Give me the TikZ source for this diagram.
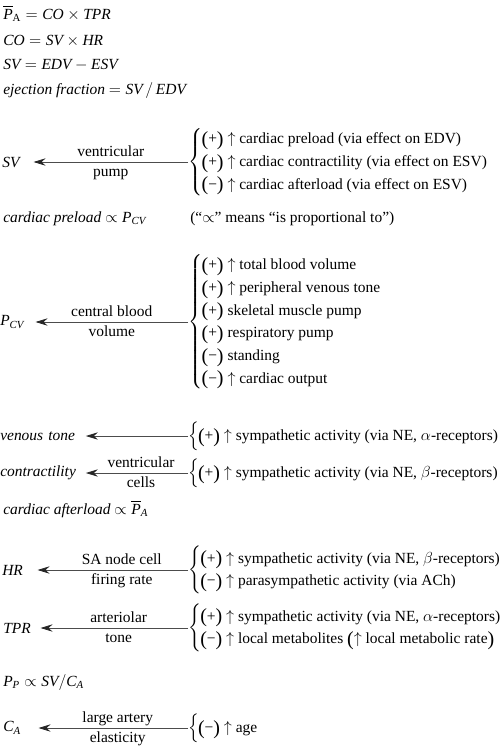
\documentclass[tikz,border=0pt]{standalone}
\usepackage{amsmath}
\usepackage{fontspec}
\setmainfont{Liberation Serif}
\usetikzlibrary{arrows.meta,positioning}

\newcommand{\bodyfont}{\fontsize{11.6}{17}\selectfont}
\newcommand{\bigpar}[1]{\raisebox{-1.2pt}{\fontsize{15}{15}\selectfont #1}}
\newcommand{\posfx}{\bigpar{(}+\bigpar{)}}
\newcommand{\negfx}{\bigpar{(}−\bigpar{)}}
\newcommand{\incr}{$\uparrow$}
\newcommand{\fxlist}[1]{$\left\{\mkern-1mu\vcenter{\hbox{\begin{tabular}{@{}l@{}}#1\end{tabular}}}\right.$}

\tikzset{
  txt/.style={anchor=base west, inner sep=0pt},
  lhs/.style={anchor=west, inner sep=0pt, text width=#1, align=left, font=\bodyfont\itshape},
  fx/.style={anchor=west, inner sep=0pt},
  flow/.style={draw=black!70, line width=0.6pt, -{Stealth[length=9pt,width=5.5pt,inset=3pt,black!85]}},
  toplbl/.style={midway, anchor=base, yshift=3.8pt, inner sep=0pt},
  botlbl/.style={midway, anchor=base, yshift=-10.5pt, inner sep=0pt}
}

\begin{document}
\begin{tikzpicture}[x=0.75pt, y=-0.75pt, font=\bodyfont]
\useasboundingbox (0,0) rectangle (500,746);

% basic relations
\node[txt] (mapeq) at (3,19) {$\overline{\textit{P}}_{\textrm{A}} = \textit{CO}\times\textit{TPR}$};
\node[txt] (coeq) at (3,45) {$\textit{CO} = \textit{SV}\times\textit{HR}$};
\node[txt] (sveq) at (3,69) {$\textit{SV} = \textit{EDV} - \textit{ESV}$};
\node[txt] (efeq) at (3,94) {\textit{ejection fraction} $= \textit{SV}\,/\,\textit{EDV}$};

% stroke volume
\node[lhs=23.25pt] (sv) at (2,162) {SV};
\node[fx] (svfx) at (188,162) {\fxlist{\posfx{} \incr{} cardiac preload (via effect on EDV)\\
  \posfx{} \incr{} cardiac contractility (via effect on ESV)\\
  \negfx{} \incr{} cardiac afterload (via effect on ESV)}};
\draw[flow] (svfx) -- (sv) node[toplbl] (svtop) {ventricular} node[botlbl] (svbot) {pump};

\node[txt] (preload) at (3,222) {\textit{cardiac preload} $\propto \textit{P}_{\textit{CV}}$};
\node[txt] (propnote) at (190,222) {(``$\propto$'' means ``is proportional to'')};

% central venous pressure
\node[lhs=26.25pt] (pcv) at (0,322) {P\textsubscript{CV}};
\node[fx] (pcvfx) at (188,322) {\fxlist{\posfx{} \incr{} total blood volume\\
  \posfx{} \incr{} peripheral venous tone\\
  \posfx{} skeletal muscle pump\\
  \posfx{} respiratory pump\\
  \negfx{} standing\\
  \negfx{} \incr{} cardiac output}};
\draw[flow] (pcvfx) -- (pcv) node[toplbl] (pcvtop) {central blood} node[botlbl] (pcvbot) {volume};

% venous tone
\node[lhs=64pt] (vtone) at (0,436) {venous tone};
\node[fx] (vtonefx) at (188,436) {\fxlist{\posfx{} \incr{} sympathetic activity (via NE, $\alpha$-receptors)}};
\draw[flow] (vtonefx) -- (vtone);

% contractility
\node[lhs=64pt] (contr) at (0,473) {contractility};
\node[fx] (contrfx) at (188,473) {\fxlist{\posfx{} \incr{} sympathetic activity (via NE, $\beta$-receptors)}};
\draw[flow] (contrfx) -- (contr) node[toplbl,pos=0.46] (contrtop) {ventricular} node[botlbl,pos=0.46] (contrbot) {cells};

\node[txt] (afterload) at (3,514) {\textit{cardiac afterload} $\propto \overline{\textit{P}}_{\textit{A}}$};

% heart rate
\node[lhs=26.25pt] (hr) at (2,570) {HR};
\node[fx] (hrfx) at (188,570) {\fxlist{\posfx{} \incr{} sympathetic activity (via NE, $\beta$-receptors)\\
  \negfx{} \incr{} parasympathetic activity (via ACh)}};
\draw[flow] (hrfx) -- (hr) node[toplbl,pos=0.44] (hrtop) {SA node cell} node[botlbl,pos=0.44] (hrbot) {firing rate};

% total peripheral resistance
\node[lhs=27.75pt] (tpr) at (3,628) {TPR};
\node[fx] (tprfx) at (188,628) {\fxlist{\posfx{} \incr{} sympathetic activity (via NE, $\alpha$-receptors)\\
  \negfx{} \incr{} local metabolites \bigpar{(}\incr{} local metabolic rate\bigpar{)}}};
\draw[flow] (tprfx) -- (tpr) node[toplbl,pos=0.47] (tprtop) {arteriolar} node[botlbl,pos=0.47] (tprbot) {tone};

\node[txt] (pulse) at (3,686) {$\textit{P}_{\textit{P}} \propto \textit{SV}/\textit{C}_{\textit{A}}$};

% arterial compliance
\node[lhs=26.25pt] (ca) at (3,728) {C\textsubscript{A}};
\node[fx] (cafx) at (188,728) {\fxlist{\negfx{} \incr{} age}};
\draw[flow] (cafx) -- (ca) node[toplbl,pos=0.47] (catop) {large artery} node[botlbl,pos=0.47] (cabot) {elasticity};
\end{tikzpicture}
\end{document}
